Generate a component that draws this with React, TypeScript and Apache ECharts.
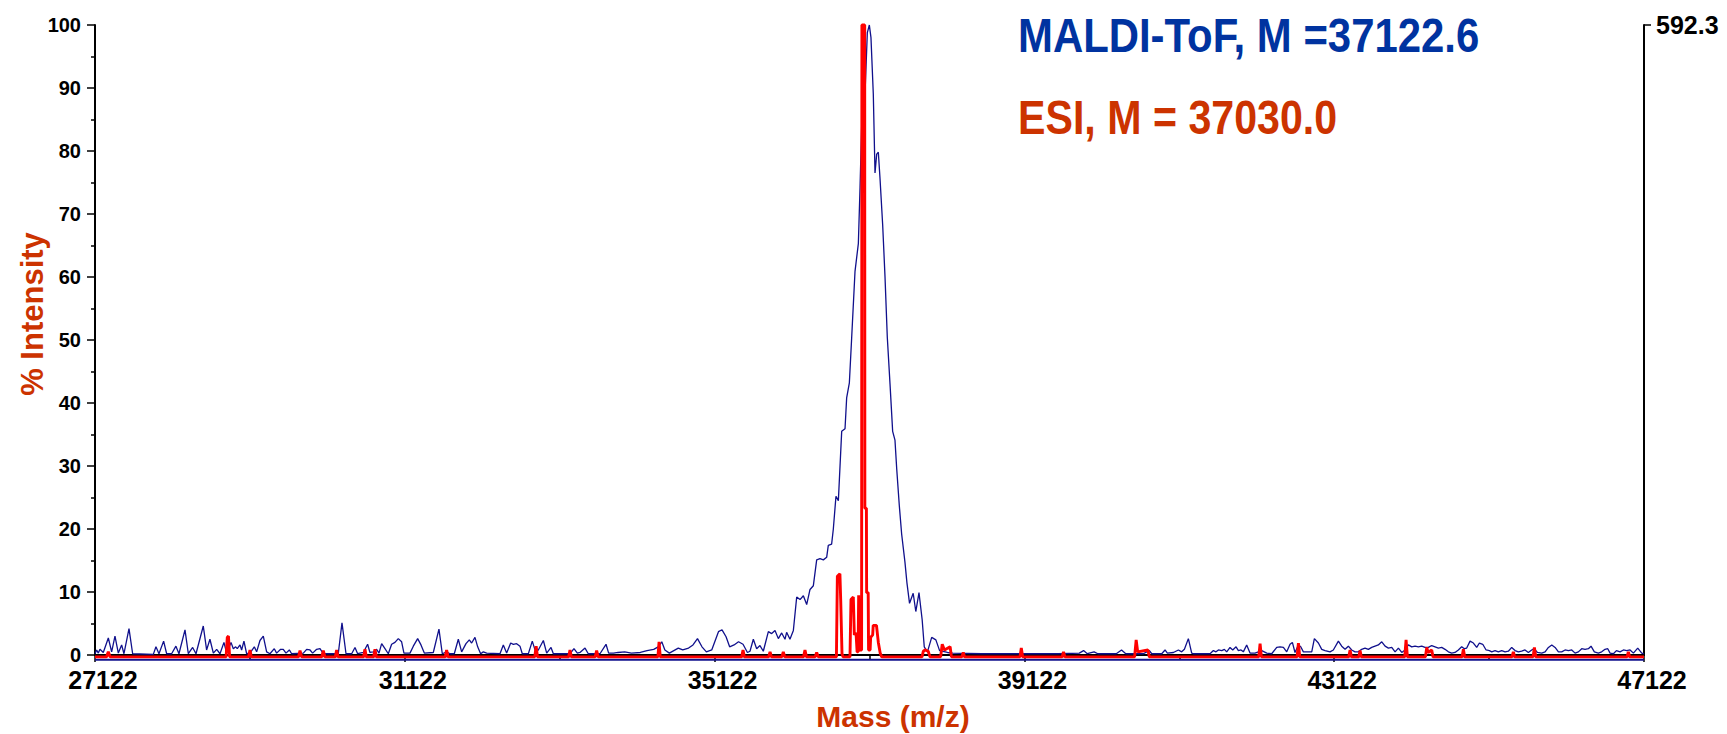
import { useEffect, useRef } from 'react';
import * as echarts from 'echarts';

// Axis definitions
const MASS_MIN = 27122;
const MASS_MAX = 47122;
const MASS_STEP = 4000;
const PCT_MIN = 0;
const PCT_MAX = 100;
const PCT_STEP = 10;
const COUNTS_MAX = 592.3;

const TITLE_MALDI = 'MALDI-ToF, M =37122.6';
const TITLE_ESI = 'ESI, M = 37030.0';
const X_NAME = 'Mass (m/z)';
const Y_NAME = '% Intensity';

// MALDI-ToF trace: [mass, % intensity]
const maldiSpectrum: [number, number][] = [
  [27122, 0.2], [27143, 0.8], [27165, 0.3], [27186, 0.9], [27229, 0.4], [27294, 2.7], [27337, 0.5],
  [27380, 3.0], [27423, 0.3], [27466, 1.6], [27496, 0.2], [27561, 4.2], [27608, 0.2], [27875, 0.1],
  [27909, 1.3], [27948, 0.2], [28008, 2.2], [28047, 0.2], [28111, 0.2], [28167, 1.4], [28206, 0.2],
  [28284, 4.0], [28327, 0.2], [28383, 1.2], [28426, 0.2], [28520, 4.6], [28563, 0.8], [28606, 2.5],
  [28650, 0.3], [28693, 0.9], [28736, 0.2], [28787, 2.0], [28822, 0.3], [28878, 2.0], [28908, 1.0],
  [28938, 1.3], [28959, 1.0], [28994, 1.6], [29015, 0.8], [29045, 2.2], [29080, 0.2], [29123, 0.3],
  [29179, 1.3], [29209, 0.5], [29252, 2.3], [29295, 3.0], [29338, 0.5], [29381, 0.2], [29437, 1.0],
  [29467, 0.3], [29519, 0.9], [29553, 0.9], [29588, 0.3], [29631, 0.8], [29661, 0.2], [29812, 0.3],
  [29855, 0.9], [29898, 0.8], [29932, 0.3], [29984, 0.9], [30027, 1.0], [30070, 0.2], [30263, 0.2],
  [30311, 5.1], [30363, 0.2], [30436, 0.2], [30479, 1.2], [30513, 0.2], [30586, 0.4], [30642, 1.7],
  [30672, 0.4], [30715, 0.5], [30758, 0.9], [30789, 0.3], [30823, 1.8], [30866, 1.0], [30909, 0.2],
  [30952, 1.7], [30995, 2.0], [31038, 2.6], [31081, 2.1], [31111, 0.3], [31189, 0.3], [31232, 1.4],
  [31288, 2.6], [31331, 1.6], [31374, 0.3], [31490, 0.4], [31563, 4.1], [31606, 0.2], [31662, 0.5],
  [31705, 0.2], [31761, 0.2], [31813, 2.5], [31856, 0.5], [31912, 1.8], [31955, 2.4], [31985, 1.9],
  [32028, 2.8], [32063, 1.3], [32101, 0.2], [32136, 0.5], [32179, 0.3], [32351, 0.2], [32394, 1.6],
  [32437, 0.3], [32489, 1.9], [32523, 1.7], [32566, 1.8], [32609, 1.4], [32639, 0.2], [32717, 0.2],
  [32768, 2.2], [32811, 0.5], [32846, 0.8], [32911, 2.3], [32954, 0.3], [33010, 1.2], [33040, 0.2],
  [33255, 0.2], [33306, 1.0], [33350, 0.3], [33384, 0.4], [33449, 1.1], [33491, 0.2], [33642, 0.2],
  [33720, 1.7], [33754, 0.3], [33817, 0.3], [33875, 0.4], [33961, 0.5], [34048, 0.3], [34163, 0.4],
  [34250, 0.7], [34336, 0.9], [34394, 1.3], [34440, 2.1], [34480, 0.8], [34538, 0.3], [34653, 1.1],
  [34711, 0.8], [34786, 1.1], [34843, 1.6], [34901, 2.6], [34959, 1.3], [35016, 0.5], [35085, 0.8],
  [35172, 3.7], [35218, 4.0], [35270, 2.9], [35316, 1.3], [35373, 1.6], [35431, 2.1], [35489, 1.7],
  [35546, 0.4], [35579, 0.6], [35622, 2.5], [35665, 1.0], [35708, 1.5], [35751, 0.6], [35816, 3.7],
  [35859, 3.4], [35902, 3.9], [35945, 2.6], [35988, 3.5], [36031, 2.5], [36052, 3.6], [36095, 2.5],
  [36139, 3.9], [36182, 9.2], [36225, 8.8], [36268, 9.4], [36311, 8.0], [36354, 10.4], [36397, 11.0],
  [36440, 15.1], [36483, 15.3], [36526, 15.1], [36569, 15.5], [36590, 17.4], [36633, 17.6], [36655, 20.0],
  [36689, 25.2], [36720, 24.5], [36763, 35.5], [36806, 35.9], [36827, 40.8], [36862, 43.2], [36892, 50.4],
  [36935, 60.9], [36978, 65.3], [37000, 74.3], [37021, 84.0], [37042, 86.2], [37064, 89.1], [37094, 98.8],
  [37120, 100], [37141, 98.0], [37171, 89.1], [37193, 76.5], [37215, 79.5], [37236, 79.8], [37258, 75.6],
  [37292, 68.3], [37322, 60.1], [37352, 50.4], [37387, 43.0], [37421, 35.5], [37451, 34.1], [37473, 29.6],
  [37507, 23.7], [37537, 19.2], [37580, 14.7], [37605, 11.5], [37639, 8.2], [37686, 9.8], [37720, 6.9],
  [37761, 9.9], [37802, 5.6], [37829, 1.3], [37870, 0.5], [37925, 2.8], [37979, 2.4], [38027, 0.7],
  [38129, 0.4], [38197, 0.3], [38572, 0.2], [38878, 0.2], [39218, 0.2], [39559, 0.2], [39831, 0.3],
  [39886, 0.7], [39934, 0.2], [40022, 0.5], [40070, 0.2], [40308, 0.2], [40376, 0.8], [40431, 0.2],
  [40658, 0.2], [40701, 0.5], [40736, 0.7], [40766, 0.2], [40895, 0.2], [40938, 0.8], [40968, 0.3],
  [41046, 0.4], [41110, 0.8], [41153, 0.5], [41188, 0.9], [41239, 2.6], [41282, 0.3], [41304, 0.2],
  [41519, 0.2], [41562, 0.7], [41596, 0.5], [41627, 0.8], [41670, 0.7], [41704, 0.9], [41734, 0.5],
  [41777, 1.2], [41812, 0.8], [41855, 1.3], [41885, 0.7], [41919, 0.8], [41949, 0.5], [41992, 1.6],
  [42035, 0.3], [42100, 0.3], [42143, 0.5], [42186, 0.7], [42251, 0.3], [42315, 0.2], [42380, 1.2],
  [42423, 1.3], [42466, 1.2], [42509, 0.5], [42552, 1.7], [42582, 2.0], [42616, 0.4], [42660, 1.6],
  [42690, 1.3], [42724, 0.5], [42832, 0.5], [42866, 2.6], [42918, 1.9], [42961, 0.9], [43004, 0.7],
  [43068, 0.5], [43111, 0.8], [43176, 2.2], [43219, 1.4], [43262, 0.9], [43305, 1.4], [43348, 0.8],
  [43391, 0.5], [43434, 0.5], [43477, 0.9], [43520, 1.1], [43563, 0.9], [43606, 1.2], [43649, 1.4],
  [43692, 1.6], [43736, 2.1], [43779, 1.4], [43822, 1.1], [43865, 1.2], [43908, 0.5], [43951, 1.1],
  [43994, 0.4], [44037, 0.8], [44080, 1.6], [44123, 1.3], [44166, 1.4], [44209, 1.3], [44252, 1.4],
  [44295, 1.2], [44338, 1.2], [44381, 1.5], [44424, 1.3], [44467, 1.1], [44510, 1.2], [44553, 0.9],
  [44596, 0.5], [44639, 0.3], [44682, 0.4], [44725, 0.8], [44768, 1.3], [44803, 1.0], [44833, 1.1],
  [44876, 2.2], [44919, 1.9], [44962, 1.2], [44997, 1.9], [45040, 1.7], [45083, 0.8], [45126, 0.7],
  [45156, 0.5], [45199, 0.7], [45242, 0.5], [45285, 0.7], [45328, 0.5], [45371, 0.6], [45414, 1.2],
  [45457, 0.7], [45500, 0.5], [45543, 0.6], [45586, 0.8], [45629, 0.4], [45672, 0.8], [45703, 1.0],
  [45746, 0.4], [45802, 0.3], [45845, 0.5], [45888, 1.2], [45931, 1.6], [45974, 1.2], [46017, 0.5],
  [46060, 0.5], [46103, 0.8], [46146, 0.7], [46189, 0.8], [46232, 0.3], [46275, 0.5], [46318, 1.0],
  [46361, 0.9], [46404, 1.0], [46438, 1.4], [46481, 0.5], [46533, 0.3], [46576, 0.5], [46619, 0.9],
  [46654, 1.0], [46684, 0.3], [46727, 0.2], [46766, 0.7], [46813, 0.5], [46856, 0.8], [46899, 0.7],
  [46942, 0.8], [46985, 0.3], [47041, 1.1], [47093, 0.3], [47122, 0.2],
];

// ESI trace: [mass, % intensity] (its baseline sits just under zero)
const esiSpectrum: [number, number][] = [
  [27122, -0.3], [27270, -0.3], [27294, 0.5], [27318, -0.3],
  [28815, -0.3], [28830, 2.8], [28845, 3.0], [28860, -0.3],
  [29105, -0.3], [29123, 0.8], [29140, -0.3],
  [29750, -0.3], [29769, 0.7], [29790, -0.3],
  [30050, -0.3], [30070, 0.7], [30090, -0.3],
  [30225, -0.3], [30242, 0.8], [30260, -0.3],
  [30590, -0.3], [30608, 0.9], [30625, -0.3],
  [30720, -0.3], [30737, 0.9], [30755, -0.3],
  [31645, -0.3], [31662, 0.8], [31680, -0.3],
  [32800, -0.3], [32818, 1.4], [32835, -0.3],
  [33238, -0.3], [33255, 0.8], [33272, -0.3],
  [33580, -0.3], [33599, 0.7], [33618, -0.3],
  [34390, -0.3], [34405, 2.1], [34420, -0.3],
  [35472, -0.3], [35489, 0.8], [35506, -0.3],
  [35820, -0.3], [35838, 0.5], [35856, -0.3],
  [35990, -0.3], [36009, 0.5], [36028, -0.3],
  [36270, -0.3], [36289, 0.8], [36308, -0.3],
  [36420, -0.3], [36440, 0.4], [36460, -0.3],
  [36695, -0.3], [36707, 12.5], [36740, 12.9], [36750, 8.8], [36767, 0.2], [36780, -0.3],
  [36870, -0.3], [36883, 8.8], [36913, 9.2], [36926, 3.2], [36948, 3.5], [36962, 0.5], [36975, 0.5],
  [36982, 9.5], [36990, 0.8], [37020, 0.8], [37024, 100], [37060, 100], [37062, 23.3], [37082, 23.3],
  [37085, 9.9], [37105, 9.9], [37110, 0.8], [37130, 0.8], [37137, 2.8], [37163, 3.2], [37170, 4.7],
  [37212, 4.7], [37236, 2.0], [37260, 0.3], [37280, -0.3],
  [37800, -0.3], [37817, 0.6], [37840, 0.8], [37880, 0.6], [37903, -0.3],
  [38040, -0.3], [38061, 1.7], [38090, 0.8], [38163, 1.3], [38180, -0.3],
  [38315, -0.3], [38333, 0.4], [38350, -0.3],
  [39065, -0.3], [39082, 1.1], [39100, -0.3],
  [39610, -0.3], [39627, 0.5], [39645, -0.3],
  [40545, -0.3], [40565, 2.4], [40585, 0.5], [40717, 0.8], [40735, -0.3],
  [42148, -0.3], [42165, 1.8], [42182, -0.3],
  [42643, -0.3], [42660, 1.9], [42677, -0.3],
  [43310, -0.3], [43327, 0.8], [43344, -0.3],
  [43440, -0.3], [43456, 0.7], [43472, -0.3],
  [44033, -0.3], [44050, 2.4], [44067, -0.3],
  [44300, -0.3], [44317, 1.2], [44334, 0.4], [44381, 0.8], [44398, -0.3],
  [44773, -0.3], [44790, 0.9], [44807, -0.3],
  [45418, -0.3], [45435, 0.5], [45452, -0.3],
  [45690, -0.3], [45707, 1.2], [45724, -0.3],
  [46903, -0.3], [46920, 0.5], [46937, -0.3],
  [47122, -0.3],
];

// Blue baseline drawn beneath the axis
const maldiBaseline: [number, number][] = [[27122, -0.75], [47122, -0.75]];

const FONT = "'Liberation Sans', Arial, Helvetica, sans-serif";
const BLUE = '#0033a0';
const ORANGE = '#cc3300';
const NAVY = '#10108c';

export default function App() {
  const ref = useRef<HTMLDivElement>(null);

  useEffect(() => {
    if (!ref.current) return;
    const chart = echarts.init(ref.current, null, { renderer: 'svg' });
    const shift = (d: [number, number][]) => d.map(([m, v]) => [m - MASS_MIN, v]);

    chart.setOption({
      animation: false,
      backgroundColor: '#ffffff',
      grid: { left: 95, right: 83, top: 25, bottom: 79, containLabel: false },
      xAxis: {
        type: 'value',
        min: 0,
        max: MASS_MAX - MASS_MIN,
        interval: MASS_STEP,
        axisLine: { onZero: false, lineStyle: { color: '#000', width: 2 } },
        axisTick: { show: true, length: 7, lineStyle: { color: '#000', width: 1.5 } },
        minorTick: { show: true, splitNumber: 2, length: 5, lineStyle: { color: '#000', width: 1.5 } },
        splitLine: { show: false },
        axisLabel: {
          formatter: (v: number) => String(Math.round(v + MASS_MIN)),
          fontFamily: FONT,
          fontWeight: 'bold',
          fontSize: 25,
          color: '#000',
          margin: 12,
          padding: [0, 0, 0, 16],
          showMinLabel: true,
          showMaxLabel: true,
        },
      },
      yAxis: [
        {
          type: 'value',
          position: 'left',
          min: PCT_MIN,
          max: PCT_MAX,
          interval: PCT_STEP,
          axisLine: { show: true, lineStyle: { color: '#000', width: 2 } },
          axisTick: { show: true, length: 8, lineStyle: { color: '#000', width: 1.5 } },
          minorTick: { show: true, splitNumber: 2, length: 4, lineStyle: { color: '#000', width: 1.5 } },
          splitLine: { show: false },
          axisLabel: {
            fontFamily: FONT,
            fontWeight: 'bold',
            fontSize: 20,
            color: '#000',
            margin: 14,
          },
        },
        {
          type: 'value',
          position: 'right',
          min: 0,
          max: COUNTS_MAX,
          interval: COUNTS_MAX,
          axisLine: { show: true, lineStyle: { color: '#000', width: 2 } },
          axisTick: { show: true, length: 7, lineStyle: { color: '#000', width: 1.5 } },
          splitLine: { show: false },
          axisLabel: {
            formatter: (v: number) => (Math.abs(v - COUNTS_MAX) < 1e-6 ? String(COUNTS_MAX) : ''),
            fontFamily: FONT,
            fontWeight: 'bold',
            fontSize: 25,
            color: '#000',
            margin: 12,
            padding: [0, 0, 6, 0],
            showMinLabel: false,
          },
        },
      ],
      series: [
        {
          type: 'line',
          name: 'MALDI baseline',
          data: shift(maldiBaseline),
          showSymbol: false,
          clip: false,
          silent: true,
          lineStyle: { color: NAVY, width: 2 },
          z: 1,
        },
        {
          type: 'line',
          name: 'MALDI-ToF',
          data: shift(maldiSpectrum),
          showSymbol: false,
          clip: false,
          lineStyle: { color: NAVY, width: 1.3 },
          z: 2,
        },
        {
          type: 'line',
          name: 'ESI',
          data: shift(esiSpectrum),
          showSymbol: false,
          clip: false,
          lineStyle: { color: '#ff0000', width: 2.9 },
          z: 3,
        },
      ],
      graphic: [
        {
          type: 'text',
          x: 1018,
          y: 35,
          scaleX: 0.855,
          style: {
            text: TITLE_MALDI,
            fontFamily: FONT,
            fontWeight: 'bold',
            fontSize: 49,
            fill: BLUE,
            align: 'left',
            verticalAlign: 'middle',
            textAlign: 'left',
            textVerticalAlign: 'middle',
          },
        },
        {
          type: 'text',
          x: 1018,
          y: 117,
          scaleX: 0.84,
          style: {
            text: TITLE_ESI,
            fontFamily: FONT,
            fontWeight: 'bold',
            fontSize: 49,
            fill: ORANGE,
            align: 'left',
            verticalAlign: 'middle',
            textAlign: 'left',
            textVerticalAlign: 'middle',
          },
        },
        {
          type: 'text',
          x: 893,
          y: 716,
          style: {
            text: X_NAME,
            fontFamily: FONT,
            fontWeight: 'bold',
            fontSize: 30,
            fill: ORANGE,
            align: 'center',
            verticalAlign: 'middle',
            textAlign: 'center',
            textVerticalAlign: 'middle',
          },
        },
        {
          type: 'text',
          x: 32,
          y: 314,
          rotation: Math.PI / 2,
          style: {
            text: Y_NAME,
            fontFamily: FONT,
            fontWeight: 'bold',
            fontSize: 31,
            fill: ORANGE,
            align: 'center',
            verticalAlign: 'middle',
            textAlign: 'center',
            textVerticalAlign: 'middle',
          },
        },
      ],
    });

    return () => chart.dispose();
  }, []);

  return (
    <div
      ref={ref}
      style={{ position: 'fixed', left: 0, top: 0, width: 1727, height: 734, background: '#fff' }}
    />
  );
}
